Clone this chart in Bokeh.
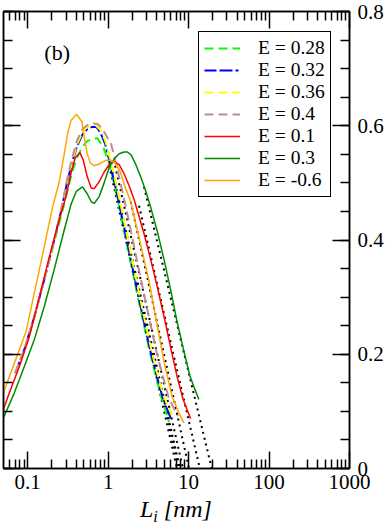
from bokeh.plotting import figure
from bokeh.layouts import column
from bokeh.models import (LinearAxis, LogAxis, FixedTicker, SingleIntervalTicker,
                          Label, Legend, LegendItem, Div)
from bokeh.embed import file_html
from bokeh.resources import INLINE

# ---------------- data ----------------
# E = 0.28 (green dashed)
x_e028 = [0.070, 0.091, 0.121, 0.161, 0.214, 0.262, 0.310, 0.358, 0.413, 0.476, 0.549, 0.633,
          0.737, 0.867, 1.029, 1.187, 1.369, 1.624, 1.928, 2.288, 2.715, 3.223, 3.823, 4.538, 5.702]
y_e028 = [0.167, 0.209, 0.266, 0.331, 0.397, 0.444, 0.484, 0.520, 0.545, 0.563, 0.573, 0.577,
          0.578, 0.563, 0.534, 0.498, 0.458, 0.407, 0.357, 0.306, 0.258, 0.210, 0.167, 0.127, 0.081]

# E = 0.32 (blue dash-dot)
x_e032 = [0.070, 0.091, 0.121, 0.161, 0.214, 0.262, 0.310, 0.358, 0.413, 0.476, 0.549, 0.633,
          0.710, 0.796, 0.918, 1.059, 1.221, 1.408, 1.671, 1.983, 2.354, 2.794, 3.316, 3.934, 4.805, 6.04]
y_e032 = [0.167, 0.209, 0.266, 0.331, 0.401, 0.453, 0.502, 0.537, 0.565, 0.584, 0.594, 0.598,
          0.598, 0.589, 0.568, 0.533, 0.495, 0.456, 0.406, 0.355, 0.305, 0.256, 0.208, 0.167, 0.122, 0.087]

# E = 0.36 (yellow dashed)
x_e036 = [0.070, 0.091, 0.121, 0.161, 0.214, 0.262, 0.310, 0.358, 0.413, 0.476, 0.549, 0.633,
          0.710, 0.796, 0.918, 1.059, 1.221, 1.408, 1.671, 1.983, 2.354, 2.794, 3.316, 3.934, 4.805, 6.212]
y_e036 = [0.167, 0.209, 0.266, 0.331, 0.401, 0.455, 0.506, 0.540, 0.568, 0.588, 0.598, 0.600,
          0.600, 0.593, 0.574, 0.542, 0.505, 0.467, 0.416, 0.366, 0.315, 0.265, 0.218, 0.174, 0.130, 0.093]

# E = 0.4 (rosy brown dashed)
x_e040 = [0.070, 0.091, 0.121, 0.161, 0.214, 0.262, 0.310, 0.358, 0.413, 0.476, 0.549, 0.633,
          0.737, 0.843, 0.972, 1.089, 1.256, 1.449, 1.671, 1.983, 2.354, 2.794, 3.316, 3.934, 4.668, 5.702, 7.37]
y_e040 = [0.167, 0.209, 0.266, 0.331, 0.401, 0.455, 0.507, 0.545, 0.575, 0.594, 0.601, 0.604,
          0.603, 0.595, 0.580, 0.568, 0.533, 0.495, 0.456, 0.406, 0.355, 0.305, 0.256, 0.208, 0.167, 0.122, 0.092]

# E = 0.1 (red solid)
x_e01 = [0.05, 0.059, 0.079, 0.105, 0.140, 0.186, 0.247, 0.299, 0.348, 0.390, 0.446, 0.490, 0.549,
         0.616, 0.671, 0.774, 0.892, 1.029, 1.187, 1.369, 1.578, 1.820, 2.100, 2.422, 2.794, 3.223,
         3.715, 4.286, 5.188, 6.037, 7.161, 8.499, 10.59]
y_e01 = [0.104, 0.132, 0.179, 0.231, 0.301, 0.371, 0.436, 0.476, 0.519, 0.544, 0.553, 0.540, 0.511,
         0.491, 0.490, 0.502, 0.519, 0.532, 0.537, 0.532, 0.516, 0.495, 0.471, 0.441, 0.411, 0.377,
         0.342, 0.305, 0.253, 0.209, 0.162, 0.122, 0.087]

# E = 0.3 (dark green solid)
x_e03 = [0.05, 0.068, 0.091, 0.121, 0.161, 0.214, 0.285, 0.345, 0.401, 0.480, 0.549, 0.616, 0.671,
         0.774, 0.892, 1.029, 1.187, 1.369, 1.578, 1.735, 1.928, 2.223, 2.565, 2.958, 3.412, 4.083,
         4.944, 6.037, 7.161, 8.745, 10.38, 11.63, 13.42]
y_e03 = [0.089, 0.132, 0.179, 0.226, 0.284, 0.349, 0.418, 0.462, 0.485, 0.493, 0.481, 0.467, 0.464,
         0.476, 0.500, 0.527, 0.542, 0.551, 0.554, 0.554, 0.549, 0.531, 0.509, 0.484, 0.455, 0.415,
         0.366, 0.310, 0.258, 0.205, 0.162, 0.143, 0.121]

# E = -0.6 (orange solid)
x_em06 = [0.05, 0.068, 0.0955, 0.140, 0.204, 0.247, 0.285, 0.313, 0.345, 0.405, 0.472, 0.504, 0.549,
          0.598, 0.671, 0.774, 0.918, 1.059, 1.221, 1.408, 1.624, 1.911, 2.422, 3.223, 4.083, 5.087,
          6.212, 7.583, 8.745]
y_em06 = [0.133, 0.184, 0.240, 0.349, 0.458, 0.502, 0.551, 0.586, 0.609, 0.620, 0.607, 0.580, 0.551,
          0.535, 0.530, 0.533, 0.539, 0.540, 0.535, 0.520, 0.493, 0.467, 0.404, 0.328, 0.249, 0.179,
          0.127, 0.097, 0.080]

# straight-line fits of the tails (black dotted), start and zero crossing
fit_x = {"0.28": [1.03, 7.16], "0.32": [1.06, 7.58], "0.36": [1.09, 7.80], "0.4": [1.22, 8.50],
         "0.1": [2.42, 13.8], "0.3": [2.79, 19.4], "-0.6": [1.91, 10.1]}
fit_y = {"0.28": [0.53, 0.0], "0.32": [0.53, 0.0], "0.36": [0.53, 0.0], "0.4": [0.53, 0.0],
         "0.1": [0.46, 0.0], "0.3": [0.493, 0.0], "-0.6": [0.467, 0.0]}

x_major = [0.1, 1, 10, 100, 1000]
x_labels = ["0.1", "1", "10", "100", "1000"]

# ---------------- figure ----------------
FONT = "Liberation Serif"

p = figure(width=386, height=498, x_axis_type="log", x_range=(0.05, 1000), y_range=(0, 0.8),
           y_axis_location="right", output_backend="svg", toolbar_location=None,
           min_border_left=3, min_border_top=11, min_border_bottom=30, min_border_right=0)
p.xgrid.visible = False
p.ygrid.visible = False
p.outline_line_color = "black"
p.outline_line_width = 1.5
p.background_fill_color = "white"
p.border_fill_color = "white"

minor_x = [m * 10.0 ** e for e in range(-2, 3) for m in range(2, 10)]
minor_x = [v for v in minor_x if 0.05 < v < 1000]


def style_axis(ax, labels=True):
    ax.axis_line_color = "black"
    ax.axis_line_width = 1.5
    ax.major_tick_line_color = "black"
    ax.minor_tick_line_color = "black"
    ax.major_tick_line_width = 1.5
    ax.minor_tick_line_width = 1.5
    ax.major_tick_in = 17
    ax.major_tick_out = 0
    ax.minor_tick_in = 9
    ax.minor_tick_out = 0
    if labels:
        ax.major_label_text_font = FONT
        ax.major_label_text_font_size = "21px"
        ax.major_label_text_color = "black"
    else:
        ax.major_label_text_font_size = "1px"
        ax.major_label_text_alpha = 0
        ax.major_label_standoff = 0


xb = p.below[0]
xb.ticker = FixedTicker(ticks=x_major, minor_ticks=minor_x)
xb.major_label_overrides = {t: s for t, s in zip(x_major, x_labels)}
style_axis(xb)
xb.major_label_standoff = 6

yr = p.right[0]
yr.ticker = SingleIntervalTicker(interval=0.2, num_minor_ticks=4)
yr.major_label_overrides = {0: "0"}
style_axis(yr)
yr.major_label_standoff = 8

yl = LinearAxis(ticker=SingleIntervalTicker(interval=0.2, num_minor_ticks=4))
style_axis(yl, labels=False)
p.add_layout(yl, "left")

xt = LogAxis(ticker=FixedTicker(ticks=x_major, minor_ticks=minor_x))
xt.major_label_overrides = {t: s for t, s in zip(x_major, x_labels)}
style_axis(xt, labels=False)
p.add_layout(xt, "above")

# fits (dotted black)
for k in fit_x:
    p.line(fit_x[k], fit_y[k], line_color="black", line_width=2, line_dash="2 4")

series = [
    ("E = 0.28", x_e028, y_e028, "#00ff00", "9 5", 2),
    ("E = 0.32", x_e032, y_e032, "#0000ff", "12 3 13 3 3 3", 2),
    ("E = 0.36", x_e036, y_e036, "#ffff00", "9 5", 2),
    ("E = 0.4", x_e040, y_e040, "#bc8f8f", "9 5", 2),
    ("E = 0.1", x_e01, y_e01, "#ff0000", "solid", 1.5),
    ("E = 0.3", x_e03, y_e03, "#008b00", "solid", 1.5),
    ("E = -0.6", x_em06, y_em06, "#ffa500", "solid", 1.5),
]
items = []
for name, xs, ys, col, dash, lw in series:
    r = p.line(xs, ys, line_color=col, line_width=lw, line_dash=dash)
    items.append(LegendItem(label=name, renderers=[r]))

legend = Legend(items=items, location=(195, 271), padding=5, spacing=0,
                label_height=22, glyph_height=22, glyph_width=36, label_standoff=18,
                label_text_font=FONT, label_text_font_size="19.5px", label_text_color="black",
                border_line_color="black", border_line_width=1.5, border_line_alpha=1,
                background_fill_color="white", background_fill_alpha=1)
p.add_layout(legend, "center")

p.add_layout(Label(x=0.161, y=0.729, text="(b)", text_font=FONT, text_font_size="22px",
                   text_color="black", text_baseline="alphabetic", text_align="left"))

# axis title  L_i [nm]  (HTML text below the plot)
xlabel = Div(
    text=('<span style="font-family:\'Liberation Serif\',serif; font-style:italic; '
          'font-size:24px; line-height:22px; color:black; white-space:nowrap;">L'
          '<span style="font-size:16px; position:relative; top:5px;">i</span>'
          '&nbsp;[nm]</span>'),
    width=386, height=24, margin=(0, 0, 0, 0),
    styles={"padding-left": "140px", "line-height": "22px"})

layout = column(p, xlabel, spacing=0)
open("out.html", "w").write(file_html(layout, INLINE))
